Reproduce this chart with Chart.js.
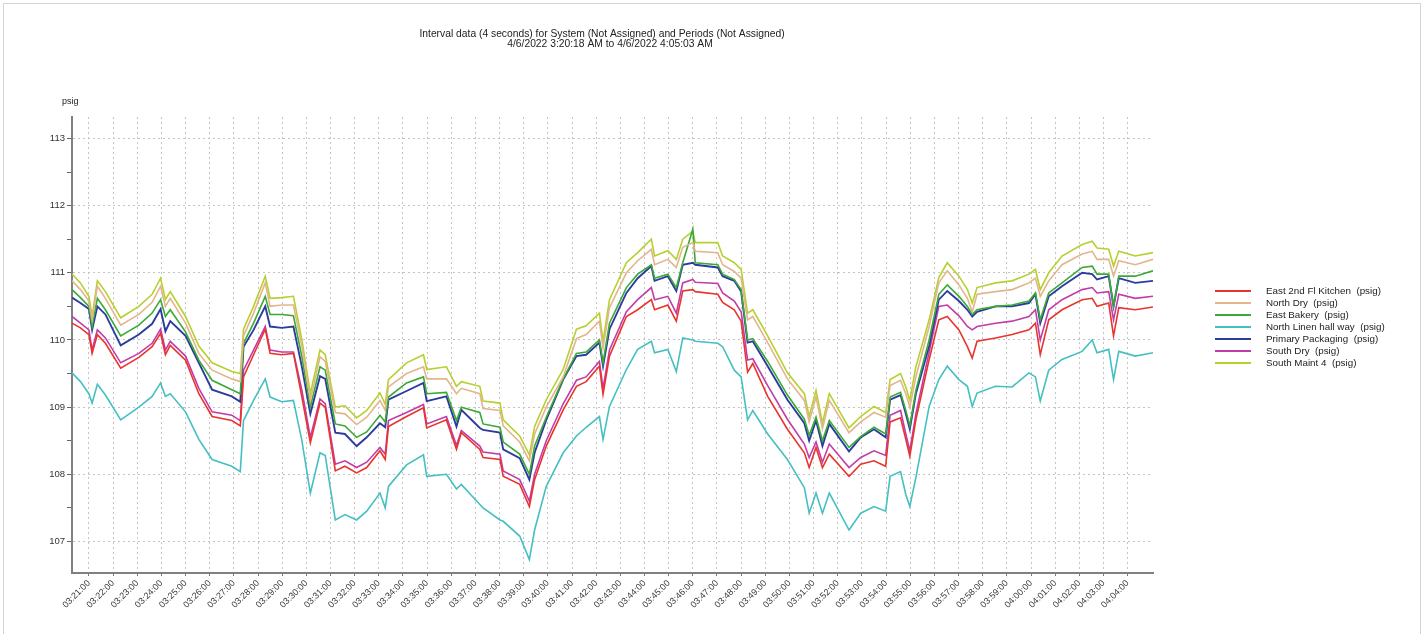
<!DOCTYPE html>
<html>
<head>
<meta charset="utf-8">
<script src="https://cdn.jsdelivr.net/npm/chart.js@4/dist/chart.umd.min.js"></script>
<style>
  html, body { margin: 0; padding: 0; background: #ffffff; }
  #wrap { position: relative; width: 1424px; height: 634px; overflow: hidden; }
  canvas { display: block; }
  #frame { position: absolute; left: 3px; top: 3px; width: 1416px; height: 660px;
           border: 1px solid #d4d4d4; pointer-events: none; }
</style>
</head>
<body>
<div id="wrap">
  <canvas id="chart" width="1424" height="634"></canvas>
  <div id="frame"></div>
</div>
<script>
// Sample times, in seconds after 03:20:00
const seconds = [18, 39, 60, 68, 81, 101, 139, 184, 217, 238, 250, 262, 300, 333, 366, 415, 436, 444, 469, 498,
  510, 539, 568, 589, 610, 634, 647, 672, 696, 725, 750, 783, 796, 804, 849, 891, 899, 948, 973, 985,
  1031, 1039, 1081, 1089, 1130, 1154, 1167, 1196, 1238, 1271, 1295, 1328, 1337, 1353, 1395, 1423, 1457, 1465, 1498, 1519,
  1535, 1560, 1566, 1622, 1634, 1663, 1680, 1696, 1709, 1746, 1795, 1837, 1849, 1866, 1882, 1899, 1948, 1977, 2010, 2039,
  2050, 2076, 2089, 2099, 2114, 2147, 2171, 2192, 2221, 2242, 2254, 2266, 2312, 2353, 2395, 2411, 2423, 2444, 2477, 2527,
  2552, 2564, 2593, 2605, 2618, 2659, 2703];

// Pressure readings (psig)
const eastKitchen = [110.25, 110.18, 110.08, 109.8, 110.08, 109.95, 109.58, 109.74, 109.9, 110.1, 109.78, 109.92, 109.7, 109.2, 108.86, 108.8, 108.72, 109.45, 109.78, 110.16,
  109.8, 109.78, 109.8, 109.15, 108.47, 109.06, 109.0, 108.05, 108.12, 108.02, 108.1, 108.35, 108.22, 108.71, 108.86, 108.99, 108.69, 108.81, 108.37, 108.62,
  108.37, 108.25, 108.22, 107.97, 107.85, 107.52, 107.92, 108.42, 108.96, 109.31, 109.38, 109.61, 109.19, 109.76, 110.35, 110.45, 110.6, 110.45, 110.52, 110.28,
  110.73, 110.75, 110.72, 110.68, 110.56, 110.45, 110.28, 109.52, 109.65, 109.16, 108.67, 108.32, 108.1, 108.4, 108.1, 108.3, 107.97, 108.15, 108.2, 108.12,
  108.78, 108.84, 108.52, 108.27, 108.81, 109.71, 110.3, 110.35, 110.15, 109.9, 109.73, 109.98, 110.03, 110.08, 110.15, 110.25, 109.78, 110.3, 110.45, 110.6,
  110.62, 110.5, 110.55, 110.06, 110.48, 110.45, 110.49];

const northDry = [110.88, 110.75, 110.58, 110.3, 110.8, 110.62, 110.22, 110.38, 110.56, 110.8, 110.5, 110.62, 110.25, 109.8, 109.55, 109.42, 109.38, 110.06, 110.4, 110.85,
  110.5, 110.52, 110.52, 109.9, 109.1, 109.75, 109.68, 108.92, 108.9, 108.74, 108.85, 109.1, 108.95, 109.3, 109.5, 109.6, 109.42, 109.42, 109.2, 109.28,
  109.2, 108.98, 108.95, 108.72, 108.48, 108.2, 108.6, 109.0, 109.45, 110.02, 110.08, 110.28, 109.88, 110.48, 111.0, 111.18, 111.35, 111.12, 111.2, 111.08,
  111.38, 111.45, 111.32, 111.3, 111.12, 111.02, 110.92, 110.3, 110.35, 109.96, 109.42, 109.1, 108.78, 109.15, 108.68, 109.1, 108.62, 108.78, 108.92, 108.85,
  109.32, 109.4, 109.2, 109.0, 109.45, 110.2, 110.85, 111.03, 110.82, 110.62, 110.42, 110.68, 110.72, 110.75, 110.85, 110.92, 110.65, 110.88, 111.12, 111.28,
  111.32, 111.2, 111.2, 110.95, 111.18, 111.12, 111.2];

const eastBakery = [110.75, 110.63, 110.5, 110.2, 110.62, 110.45, 110.06, 110.22, 110.4, 110.6, 110.35, 110.45, 110.12, 109.7, 109.4, 109.26, 109.2, 109.95, 110.25, 110.65,
  110.38, 110.38, 110.36, 109.75, 109.0, 109.6, 109.55, 108.75, 108.72, 108.55, 108.63, 108.88, 108.78, 109.15, 109.36, 109.45, 109.2, 109.22, 108.8, 109.0,
  108.92, 108.75, 108.7, 108.48, 108.3, 108.0, 108.42, 108.85, 109.42, 109.8, 109.82, 110.0, 109.66, 110.25, 110.78, 110.98, 111.12, 110.92, 110.98, 110.78,
  111.15, 111.65, 111.15, 111.12, 110.98, 110.9, 110.75, 110.0, 110.02, 109.68, 109.18, 108.82, 108.58, 108.85, 108.5, 108.8, 108.4, 108.56, 108.7, 108.6,
  109.15, 109.22, 108.95, 108.72, 109.25, 110.0, 110.68, 110.82, 110.65, 110.5, 110.38, 110.45, 110.5, 110.52, 110.58, 110.7, 110.3, 110.7, 110.85, 111.08,
  111.1, 110.98, 110.98, 110.5, 110.95, 110.95, 111.03];

const northLinen = [109.51, 109.38, 109.2, 109.06, 109.34, 109.18, 108.81, 109.0, 109.16, 109.36, 109.16, 109.2, 108.93, 108.52, 108.22, 108.12, 108.04, 108.8, 109.1, 109.42,
  109.15, 109.08, 109.1, 108.5, 107.72, 108.32, 108.28, 107.32, 107.4, 107.32, 107.45, 107.72, 107.5, 107.82, 108.14, 108.29, 107.97, 108.0, 107.78, 107.85,
  107.55, 107.5, 107.32, 107.3, 107.08, 106.73, 107.17, 107.82, 108.32, 108.57, 108.7, 108.86, 108.52, 109.01, 109.56, 109.86, 109.98, 109.81, 109.86, 109.53,
  110.03, 110.0, 109.98, 109.95, 109.9, 109.55, 109.45, 108.81, 108.95, 108.6, 108.22, 107.8, 107.42, 107.72, 107.42, 107.72, 107.17, 107.42, 107.52, 107.45,
  107.97, 108.04, 107.7, 107.52, 107.95, 109.01, 109.41, 109.61, 109.41, 109.31, 109.01, 109.21, 109.31, 109.3, 109.51, 109.45, 109.09, 109.55, 109.71, 109.83,
  110.0, 109.81, 109.86, 109.41, 109.83, 109.76, 109.81];

const primaryPackaging = [110.63, 110.55, 110.46, 110.15, 110.5, 110.38, 109.92, 110.08, 110.24, 110.46, 110.13, 110.28, 110.06, 109.66, 109.26, 109.16, 109.08, 109.9, 110.15, 110.5,
  110.2, 110.18, 110.2, 109.6, 108.9, 109.46, 109.42, 108.62, 108.6, 108.42, 108.55, 108.76, 108.7, 109.11, 109.24, 109.36, 109.09, 109.16, 108.71, 108.96,
  108.69, 108.66, 108.62, 108.37, 108.24, 107.92, 108.32, 108.81, 109.41, 109.76, 109.78, 109.96, 109.61, 110.16, 110.7, 110.92, 111.1, 110.88, 110.95, 110.73,
  111.12, 111.15, 111.12, 111.08, 110.95, 110.88, 110.72, 109.96, 109.98, 109.61, 109.11, 108.76, 108.5, 108.8, 108.42, 108.75, 108.34, 108.55, 108.67, 108.55,
  109.11, 109.18, 108.9, 108.67, 109.2, 109.91, 110.6, 110.73, 110.58, 110.45, 110.35, 110.42, 110.5, 110.5, 110.55, 110.68, 110.25, 110.65, 110.8, 111.0,
  110.98, 110.9, 110.95, 110.5, 110.92, 110.85, 110.88];

const southDry = [110.35, 110.25, 110.15, 109.85, 110.15, 110.03, 109.66, 109.8, 109.95, 110.16, 109.85, 109.98, 109.76, 109.28, 108.93, 108.88, 108.8, 109.55, 109.85, 110.2,
  109.85, 109.82, 109.82, 109.25, 108.55, 109.12, 109.05, 108.15, 108.2, 108.1, 108.18, 108.4, 108.3, 108.8, 108.92, 109.04, 108.75, 108.86, 108.43, 108.65,
  108.42, 108.33, 108.3, 108.05, 107.92, 107.6, 108.0, 108.5, 109.05, 109.4, 109.45, 109.68, 109.28, 109.85, 110.42, 110.6, 110.78, 110.6, 110.65, 110.4,
  110.85, 110.9, 110.86, 110.84, 110.7, 110.58, 110.42, 109.7, 109.72, 109.32, 108.82, 108.45, 108.25, 108.48, 108.18, 108.45, 108.1, 108.25, 108.35, 108.28,
  108.88, 108.95, 108.6, 108.35, 108.9, 109.82, 110.5, 110.52, 110.36, 110.2, 110.15, 110.2, 110.25, 110.28, 110.35, 110.45, 110.0, 110.45, 110.6, 110.75,
  110.78, 110.7, 110.72, 110.3, 110.68, 110.62, 110.65];

const southMaint4 = [110.98, 110.85, 110.65, 110.35, 110.88, 110.72, 110.33, 110.5, 110.68, 110.92, 110.6, 110.72, 110.35, 109.91, 109.66, 109.53, 109.5, 110.16, 110.5, 110.95,
  110.62, 110.63, 110.65, 110.0, 109.2, 109.85, 109.78, 109.0, 109.02, 108.84, 108.95, 109.21, 109.04, 109.41, 109.66, 109.78, 109.56, 109.6, 109.31, 109.38,
  109.31, 109.09, 109.06, 108.81, 108.57, 108.29, 108.71, 109.11, 109.56, 110.16, 110.21, 110.4, 109.98, 110.6, 111.15, 111.3, 111.5, 111.25, 111.33, 111.2,
  111.5, 111.62, 111.45, 111.45, 111.25, 111.15, 111.05, 110.4, 110.45, 110.06, 109.51, 109.2, 108.86, 109.25, 108.76, 109.2, 108.69, 108.86, 109.01, 108.92,
  109.41, 109.5, 109.3, 109.1, 109.6, 110.3, 110.93, 111.15, 110.95, 110.75, 110.55, 110.78, 110.85, 110.88, 110.98, 111.05, 110.75, 111.0, 111.25, 111.42,
  111.47, 111.37, 111.35, 111.1, 111.32, 111.25, 111.3];

const seriesNames = ['East 2nd Fl Kitchen  (psig)', 'North Dry  (psig)', 'East Bakery  (psig)',
  'North Linen hall way  (psig)', 'Primary Packaging  (psig)', 'South Dry  (psig)', 'South Maint 4  (psig)'];
const seriesValues = [eastKitchen, northDry, eastBakery, northLinen, primaryPackaging, southDry, southMaint4];
const seriesColors = ['#e8342c', '#e3b58c', '#3aa935', '#44bfc2', '#2c3b9f', '#c23ca9', '#b6d02e'];

const titleLines = ['Interval data (4 seconds) for System (Not Assigned) and Periods (Not Assigned)',
  '4/6/2022 3:20:18 AM to 4/6/2022 4:05:03 AM'];
const unitLabel = 'psig';

// One tick per minute, 03:21:00 .. 04:04:00
const minuteTicks = [];
for (let s = 60; s <= 2640; s += 60) minuteTicks.push(s);

const FONT = '"Liberation Sans", Arial, sans-serif';

function clockLabel(sec) {
  const total = 3 * 3600 + 20 * 60 + sec;
  const h = Math.floor(total / 3600), m = Math.floor((total % 3600) / 60), s = total % 60;
  const p = n => String(n).padStart(2, '0');
  return p(h) + ':' + p(m) + ':' + p(s);
}

const datasets = seriesNames.map((name, i) => ({
  label: name,
  data: seconds.map((t, k) => ({ x: t, y: seriesValues[i][k] })),
  borderColor: seriesColors[i],
  backgroundColor: seriesColors[i],
  borderWidth: i === 4 ? 1.9 : 1.6,
  pointRadius: 0,
  tension: 0,
  fill: false
}));

// Title, unit caption and legend drawn on the canvas
const annotations = {
  id: 'annotations',
  afterDraw(chart) {
    const ctx = chart.ctx;
    ctx.save();
    ctx.fillStyle = '#222';
    ctx.textAlign = 'center';
    ctx.textBaseline = 'middle';
    ctx.font = '10.3px ' + FONT;
    ctx.fillText(titleLines[0], 602, 34);
    ctx.fillText(titleLines[1], 610, 44);

    ctx.textAlign = 'left';
    ctx.font = '9px ' + FONT;
    ctx.fillText(unitLabel, 62, 102);

    ctx.font = '9.8px ' + FONT;
    const x0 = 1215, x1 = 1251, tx = 1266, y0 = 291, dy = 12;
    chart.data.datasets.forEach((ds, i) => {
      const y = y0 + i * dy;
      ctx.strokeStyle = ds.borderColor;
      ctx.lineWidth = 2;
      ctx.beginPath();
      ctx.moveTo(x0, y);
      ctx.lineTo(x1, y);
      ctx.stroke();
      ctx.fillStyle = '#222';
      ctx.fillText(ds.label, tx, y);
    });
    ctx.restore();
  }
};

new Chart(document.getElementById('chart'), {
  type: 'line',
  data: { datasets },
  plugins: [annotations],
  options: {
    responsive: false,
    animation: false,
    events: [],
    layout: { padding: { left: 0, right: 271, top: 117, bottom: 0 } },
    plugins: { legend: { display: false }, title: { display: false }, tooltip: { enabled: false } },
    scales: {
      x: {
        type: 'linear',
        min: 18,
        max: 2703,
        afterBuildTicks(scale) { scale.ticks = minuteTicks.map(v => ({ value: v })); },
        afterFit(scale) { scale.height = 61; },
        ticks: {
          autoSkip: false,
          minRotation: 45,
          maxRotation: 45,
          padding: 2,
          color: '#3a3a3a',
          font: { family: FONT, size: 9 },
          callback: v => clockLabel(v)
        },
        grid: { color: '#c4c4c4', lineWidth: 1, tickLength: 3, tickColor: '#777' },
        border: { display: true, color: '#808080', width: 2, dash: [2, 3] }
      },
      y: {
        type: 'linear',
        min: 106.53,
        max: 113.32,
        afterFit(scale) { scale.width = 72; },
        ticks: {
          stepSize: 0.5,
          includeBounds: false,
          padding: 2,
          color: '#333',
          font: { family: FONT, size: 9.5 },
          callback: v => (Number.isInteger(v) ? String(v) : '')
        },
        grid: {
          color: c => (c.tick && Number.isInteger(c.tick.value) ? '#c4c4c4' : 'rgba(0,0,0,0)'),
          lineWidth: 1,
          tickLength: 5,
          tickColor: '#666'
        },
        border: { display: true, color: '#808080', width: 2, dash: [2, 3] }
      }
    }
  }
});
</script>
</body>
</html>
